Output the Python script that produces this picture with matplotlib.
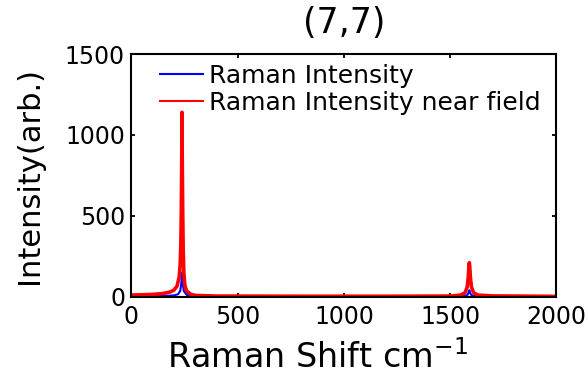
import matplotlib
matplotlib.use("Agg")
import matplotlib.pyplot as plt

# Spectrum samples (Raman shift in cm^-1, intensity in arb. units)
shift_far = [0, 150, 200, 220, 230, 235, 238.5, 242, 247, 260, 300, 600,
             1500, 1570, 1582, 1587, 1590, 1593, 1598, 1610, 1700, 2000]
intensity_far = [2, 4, 8, 15, 35, 80, 150, 80, 35, 12, 4, 1,
                 1, 5, 12, 28, 40, 28, 12, 5, 1, 0]

shift_near = [0, 50, 100, 150, 180, 200, 215, 225, 230, 233, 235, 237, 238.5,
              240, 242, 244, 247, 252, 260, 280, 300, 400, 800, 1200, 1500,
              1550, 1570, 1580, 1585, 1588, 1590, 1592, 1595, 1600, 1610,
              1630, 1700, 2000]
intensity_near = [10, 12, 14, 20, 28, 40, 65, 120, 200, 320, 500, 800, 1140,
                  800, 500, 300, 150, 70, 35, 15, 8, 4, 3, 3, 4,
                  10, 25, 60, 120, 185, 210, 185, 120, 60, 25,
                  10, 5, 2]

series_labels = ["Raman Intensity", "Raman Intensity near field"]
x_ticks = [0, 500, 1000, 1500, 2000]
y_ticks = [0, 500, 1000, 1500]

fig = plt.figure(figsize=(5.88, 3.75), dpi=100)
ax = fig.add_axes([0.2233, 0.2088, 0.7231, 0.6472])

ax.plot(shift_far, intensity_far, color=(0, 0, 1), lw=1.5, label=series_labels[0])
ax.plot(shift_near, intensity_near, color=(1, 0, 0), lw=2.6, label=series_labels[1])

ax.set_xlim(0, 2000)
ax.set_ylim(0, 1500)
ax.set_xticks(x_ticks)
ax.set_yticks(y_ticks)

for sp in ax.spines.values():
    sp.set_linewidth(1.5)
ax.tick_params(direction="in", length=3, width=1.3, top=True, right=True,
               labelsize=17)
ax.tick_params(axis="x", pad=6)
ax.tick_params(axis="y", pad=4.5)

ax.set_title("(7,7)", fontsize=25, pad=15)
ax.set_xlabel("Raman Shift cm$^{-1}$", fontsize=24)
ax.xaxis.set_label_coords(0.437, -0.18)
ax.set_ylabel("Intensity(arb.)", fontsize=22, labelpad=15)

leg = ax.legend(loc="upper left", bbox_to_anchor=(0.0675, 0.958), frameon=False,
                fontsize=18, handlelength=1.7, handletextpad=0.25,
                labelspacing=0.12, borderpad=0, borderaxespad=0)
for ln in leg.get_lines():
    ln.set_linewidth(1.5)

fig.savefig("out.png", dpi=100)
